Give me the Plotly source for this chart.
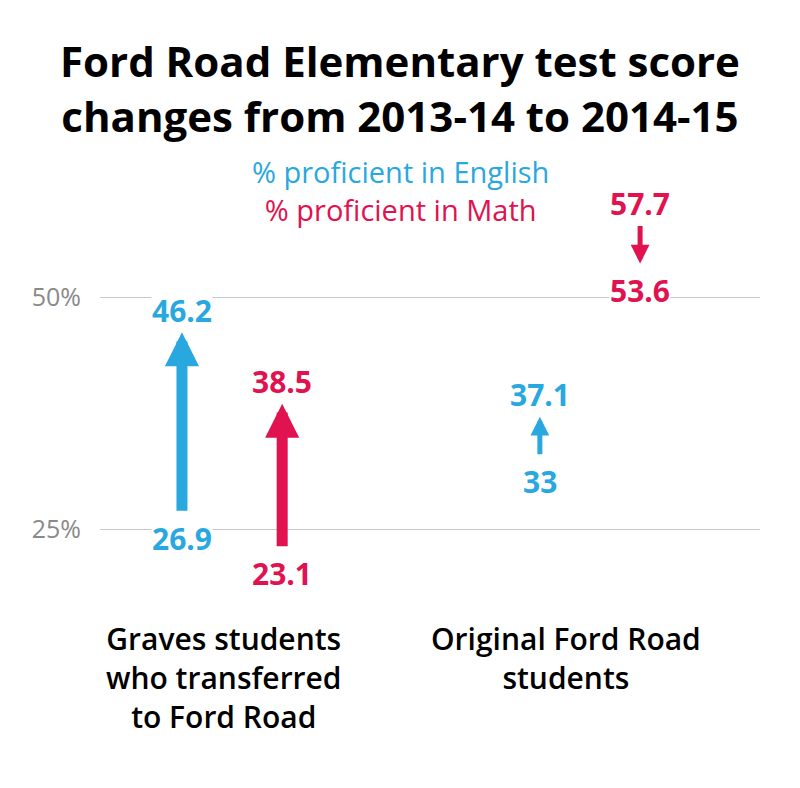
import plotly.graph_objects as go

# ---- data ----
groups = ["Graves students<br>who transferred<br>to Ford Road", "Original Ford Road<br>students"]
english_before = [26.9, 33.0]
english_after = [46.2, 37.1]
math_before = [23.1, 57.7]
math_after = [38.5, 53.6]
tick_values = [25, 50]
tick_labels = ["25%", "50%"]
legend_labels = ["% proficient in English", "% proficient in Math"]
title_lines = ["Ford Road Elementary test score", "changes from 2013-14 to 2014-15"]

BLUE = "#29a8e0"
RED = "#e0124f"
FONT = "Open Sans"

# page body has an 8px margin; compensate so the plot sits at screen 100..760 x 150..600
BODY = 8
PLOT_LEFT, PLOT_RIGHT = 100, 760
PLOT_TOP, PLOT_BOTTOM = 150, 600
PLOT_H = PLOT_BOTTOM - PLOT_TOP
PLOT_W = PLOT_RIGHT - PLOT_LEFT


def py(screen_y):
    return (PLOT_BOTTOM - screen_y) / PLOT_H


def px(screen_x):
    return (screen_x - PLOT_LEFT) / PLOT_W


fig = go.Figure()
fig.add_trace(go.Scatter(x=[0, 1], y=[english_before[0], math_before[1]], mode="markers",
                         marker=dict(opacity=0), hoverinfo="skip", showlegend=False))

annotations = []
offset = 0.14


def fmt(v):
    return "%d" % v if v == int(v) else "%.1f" % v


for gi in range(len(groups)):
    for before, after, color, dx in [
        (english_before, english_after, BLUE, -offset),
        (math_before, math_after, RED, offset),
    ]:
        xv = gi + dx
        b, a = before[gi], after[gi]
        up = a > b
        big = abs(a - b) > 10
        w = 11 if big else 5
        size = 0.62 if big else 0.75
        annotations.append(dict(
            x=xv, y=a, ax=xv, ay=b, xref="x", yref="y", axref="x", ayref="y",
            text="", showarrow=True, arrowhead=2, arrowwidth=w, arrowsize=size,
            arrowcolor=color, standoff=0, borderpad=0,
        ))
        above, below = 22, -27
        annotations.append(dict(
            x=xv, y=b, xref="x", yref="y", text="<b>%s</b>" % fmt(b), showarrow=False,
            yshift=below if up else above, font=dict(family=FONT, size=30, color=color),
            bgcolor="white", borderpad=0, xanchor="center", yanchor="middle",
        ))
        annotations.append(dict(
            x=xv, y=a, xref="x", yref="y", text="<b>%s</b>" % fmt(a), showarrow=False,
            yshift=above if up else below, font=dict(family=FONT, size=30, color=color),
            bgcolor="white", borderpad=0, xanchor="center", yanchor="middle",
        ))

# category labels
cat_x = [-0.022, 0.933]
for gi, g in enumerate(groups):
    annotations.append(dict(
        x=cat_x[gi], y=0, xref="x", yref="paper", yanchor="top", yshift=-16,
        text=g, showarrow=False, align="center",
        font=dict(family=FONT, size=30, color="black", weight=600),
    ))

# title
annotations.append(dict(
    x=px(400), xref="paper", y=py(88.5), yref="paper", yanchor="middle", xanchor="center",
    text="<br>".join("<b>%s</b>" % t for t in title_lines), showarrow=False, align="center",
    font=dict(family=FONT, size=42, color="black"),
))

# legend text
annotations.append(dict(
    x=px(400), xref="paper", y=py(190), yref="paper", yanchor="middle", xanchor="center",
    text="<span style='color:%s'>%s</span><br><span style='color:%s'>%s</span>"
         % (BLUE, legend_labels[0], RED, legend_labels[1]),
    showarrow=False, align="center",
    font=dict(family=FONT, size=29),
))

fig.update_layout(
    width=800, height=788,
    margin=dict(l=PLOT_LEFT - BODY, r=800 - PLOT_RIGHT + BODY,
                t=PLOT_TOP - BODY, b=788 - PLOT_BOTTOM + BODY),
    paper_bgcolor="white", plot_bgcolor="white",
    showlegend=False,
    xaxis=dict(range=[-0.369, 1.475], showgrid=False, zeroline=False, showticklabels=False,
               showline=False, fixedrange=True),
    yaxis=dict(range=[17.35, 65.84], tickvals=tick_values, ticktext=tick_labels,
               showgrid=True, gridcolor="#c8c8c8", gridwidth=1, zeroline=False,
               showline=False, ticks="", ticklabelstandoff=18,
               tickfont=dict(family=FONT, size=25, color="#8a8a8a")),
    annotations=annotations,
)

fig.write_html("out.html")
